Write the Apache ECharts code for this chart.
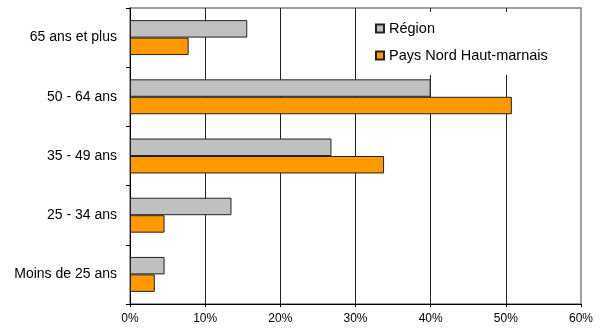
<!DOCTYPE html>
<html>
<head>
<meta charset="utf-8">
<script src="https://cdn.jsdelivr.net/npm/echarts@6/dist/echarts.min.js"></script>
<style>
  html, body { margin: 0; padding: 0; background: #fff; }
  #chart { width: 606px; height: 328px; }
</style>
</head>
<body>
<div id="chart"></div>
<script>
// Age groups, bottom to top
const ageGroups = ['Moins de 25 ans', '25 - 34 ans', '35 - 49 ans', '50 - 64 ans', '65 ans et plus'];
// Share of each age group (%)
const regionValues = [4.6, 13.5, 26.8, 40.0, 15.6];
const paysValues = [3.3, 4.6, 33.8, 50.8, 7.8];
const seriesNames = ['Région', 'Pays Nord Haut-marnais'];
const axisMax = 60;
const axisStep = 10;

const font = 'Liberation Sans, Arial, sans-serif';
const chart = echarts.init(document.getElementById('chart'), null, { renderer: 'canvas' });

chart.setOption({
  animation: false,
  backgroundColor: '#ffffff',
  textStyle: { fontFamily: font },
  grid: {
    left: 130, right: 25, top: 8, bottom: 24,
    show: true,
    borderColor: '#808080',
    borderWidth: 1.5,
    containLabel: false
  },
  legend: {
    data: seriesNames,
    orient: 'vertical',
    left: 365,
    top: 12,
    padding: [9, 22, 12, 10],
    backgroundColor: '#ffffff',
    icon: 'rect',
    itemWidth: 8,
    itemHeight: 8,
    itemGap: 12,
    textStyle: { fontFamily: font, fontSize: 14.5, color: '#000' }
  },
  xAxis: {
    type: 'value',
    min: 0,
    max: axisMax,
    interval: axisStep,
    axisLine: { show: true, lineStyle: { color: '#000', width: 1 } },
    axisTick: { show: true, length: 3, lineStyle: { color: '#000' } },
    axisLabel: {
      margin: 9,
      fontFamily: font, fontSize: 12, color: '#000',
      formatter: v => v + '%'
    },
    splitLine: {
      show: true,
      showMaxLine: false,
      lineStyle: { color: '#222', width: 1 }
    }
  },
  yAxis: {
    type: 'category',
    data: ageGroups,
    axisLine: { show: true, lineStyle: { color: '#000', width: 1 } },
    axisTick: { show: true, length: 4, lineStyle: { color: '#000' } },
    axisLabel: { margin: 13, fontFamily: font, fontSize: 14, color: '#000' }
  },
  series: [
    {
      name: seriesNames[0],
      type: 'bar',
      data: regionValues,
      barGap: '0%',
      barCategoryGap: '41%',
      itemStyle: { color: '#C0C0C0', borderColor: '#222', borderWidth: 1 }
    },
    {
      name: seriesNames[1],
      type: 'bar',
      data: paysValues,
      barGap: '0%',
      barCategoryGap: '41%',
      itemStyle: { color: '#FF9900', borderColor: '#222', borderWidth: 1 }
    }
  ]
});
</script>
</body>
</html>
